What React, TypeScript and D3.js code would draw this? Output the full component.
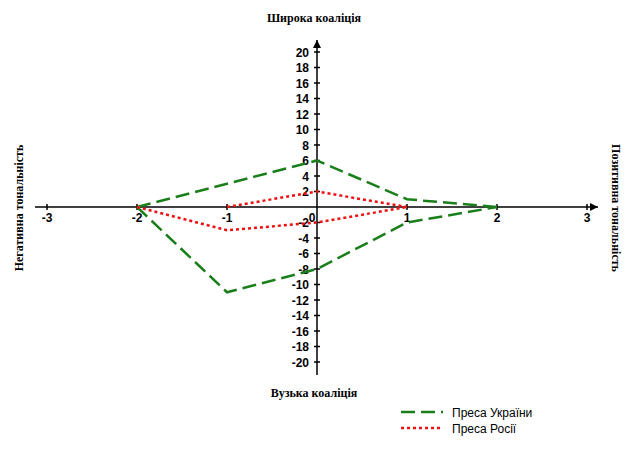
import { useEffect, useRef } from "react";
import * as d3 from "d3";

const width = 634;
const height = 475;

// ticks
const xTicks = [-3, -2, -1, 0, 1, 2, 3];
const yTicks = [-20, -18, -16, -14, -12, -10, -8, -6, -4, -2, 0, 2, 4, 6, 8, 10, 12, 14, 16, 18, 20];

// Преса України
const ukrUpperX = [-2, -1, 0, 1, 2];
const ukrUpperY = [0, 3, 6, 1, 0];
const ukrLowerX = [-2, -1, 0, 1, 2];
const ukrLowerY = [0, -11, -8, -2, 0];

// Преса Росії
const rusUpperX = [-1, 0, 1];
const rusUpperY = [0, 2, 0];
const rusLowerX = [-2, -1, 0, 1];
const rusLowerY = [0, -3, -2, 0];

const seriesNames = ["Преса України", "Преса Росії"];

const zip = (xs: number[], ys: number[]) => xs.map((x, i) => [x, ys[i]] as [number, number]);

export default function App() {
  const svgRef = useRef<SVGSVGElement>(null);

  useEffect(() => {
    const svg = d3.select(svgRef.current);
    svg.selectAll("*").remove();

    const x = d3.scaleLinear().domain([-3, 3]).range([47, 587]);
    const y = d3.scaleLinear().domain([-20, 20]).range([362, 52]);
    const x0 = x(0);
    const y0 = y(0);

    const serif = "'Liberation Serif', 'Times New Roman', serif";
    const sans = "'Liberation Sans Narrow', 'Liberation Sans', Arial, sans-serif";

    svg.append("rect").attr("width", width).attr("height", height).attr("fill", "#fff");

    svg
      .append("defs")
      .append("marker")
      .attr("id", "arrow")
      .attr("viewBox", "0 0 10 10")
      .attr("refX", 10)
      .attr("refY", 5)
      .attr("markerWidth", 10)
      .attr("markerHeight", 8)
      .attr("markerUnits", "userSpaceOnUse")
      .attr("orient", "auto")
      .append("path")
      .attr("d", "M0,0 L10,5 L0,10 Z")
      .attr("fill", "#000");

    // axes
    svg
      .append("line")
      .attr("x1", 35)
      .attr("x2", 598)
      .attr("y1", y0)
      .attr("y2", y0)
      .attr("stroke", "#000")
      .attr("stroke-width", 1.5)
      .attr("marker-end", "url(#arrow)");
    svg
      .append("line")
      .attr("x1", x0)
      .attr("x2", x0)
      .attr("y1", 375)
      .attr("y2", 40)
      .attr("stroke", "#000")
      .attr("stroke-width", 1.5)
      .attr("marker-end", "url(#arrow)");

    // x ticks
    const xt = svg.append("g");
    xt.selectAll("line")
      .data(xTicks.filter((d) => d !== 0))
      .enter()
      .append("line")
      .attr("x1", (d) => x(d))
      .attr("x2", (d) => x(d))
      .attr("y1", y0 - 3)
      .attr("y2", y0 + 3)
      .attr("stroke", "#000")
      .attr("stroke-width", 1.5);
    xt.selectAll("text")
      .data(xTicks)
      .enter()
      .append("text")
      .attr("x", (d) => (d === 0 ? x(d) - 5 : x(d)))
      .attr("y", y0 + 15)
      .attr("text-anchor", "middle")
      .attr("font-family", sans)
      .attr("font-weight", "bold")
      .attr("font-size", 12)
      .text((d) => d);

    // y ticks
    const yt = svg.append("g");
    yt.selectAll("line")
      .data(yTicks.filter((d) => d !== 0))
      .enter()
      .append("line")
      .attr("x1", x0 - 3)
      .attr("x2", x0 + 3)
      .attr("y1", (d) => y(d))
      .attr("y2", (d) => y(d))
      .attr("stroke", "#000")
      .attr("stroke-width", 1.5);
    yt.selectAll("text")
      .data(yTicks.filter((d) => d !== 0))
      .enter()
      .append("text")
      .attr("x", x0 - 8)
      .attr("y", (d) => y(d) + 4.5)
      .attr("text-anchor", "end")
      .attr("font-family", sans)
      .attr("font-weight", "bold")
      .attr("font-size", 12)
      .text((d) => d);

    // lines
    const line = d3
      .line<[number, number]>()
      .x((d) => x(d[0]))
      .y((d) => y(d[1]));

    const paths = [
      { pts: zip(ukrUpperX, ukrUpperY), color: "#1a7f1a", dash: "14,6" },
      { pts: zip(ukrLowerX, ukrLowerY), color: "#1a7f1a", dash: "14,6" },
      { pts: zip(rusUpperX, rusUpperY), color: "#ee1111", dash: "3,3" },
      { pts: zip(rusLowerX, rusLowerY), color: "#ee1111", dash: "3,3" },
    ];
    svg
      .append("g")
      .selectAll("path")
      .data(paths)
      .enter()
      .append("path")
      .attr("d", (d) => line(d.pts))
      .attr("fill", "none")
      .attr("stroke", (d) => d.color)
      .attr("stroke-width", 2.5)
      .attr("stroke-dasharray", (d) => d.dash);

    // titles
    const title = (t: string, tx: number, ty: number, rot: number) =>
      svg
        .append("text")
        .attr("transform", `translate(${tx},${ty}) rotate(${rot})`)
        .attr("text-anchor", "middle")
        .attr("font-family", serif)
        .attr("font-weight", "bold")
        .attr("font-size", 12)
        .text(t);
    title("Широка коаліція", 314, 22, 0);
    title("Вузька коаліція", 314, 397, 0);
    title("Негативна тональність", 23, 208, -90);
    title("Позитивна тональність", 612, 208, 90);

    // legend
    const legend = [
      { name: seriesNames[0], color: "#1a7f1a", dash: "14,6" },
      { name: seriesNames[1], color: "#ee1111", dash: "3,3" },
    ];
    const lg = svg
      .append("g")
      .selectAll("g")
      .data(legend)
      .enter()
      .append("g")
      .attr("transform", (_, i) => `translate(401,${412 + i * 16})`);
    lg.append("line")
      .attr("x1", 0)
      .attr("x2", 42)
      .attr("stroke", (d) => d.color)
      .attr("stroke-width", 2.5)
      .attr("stroke-dasharray", (d) => d.dash);
    lg.append("text")
      .attr("x", 51)
      .attr("y", 4.5)
      .attr("font-family", "'Liberation Sans', Arial, sans-serif")
      .attr("font-size", 12)
      .text((d) => d.name);
  }, []);

  return (
    <svg
      ref={svgRef}
      width={width}
      height={height}
      style={{ position: "absolute", left: 0, top: 0 }}
    ></svg>
  );
}
